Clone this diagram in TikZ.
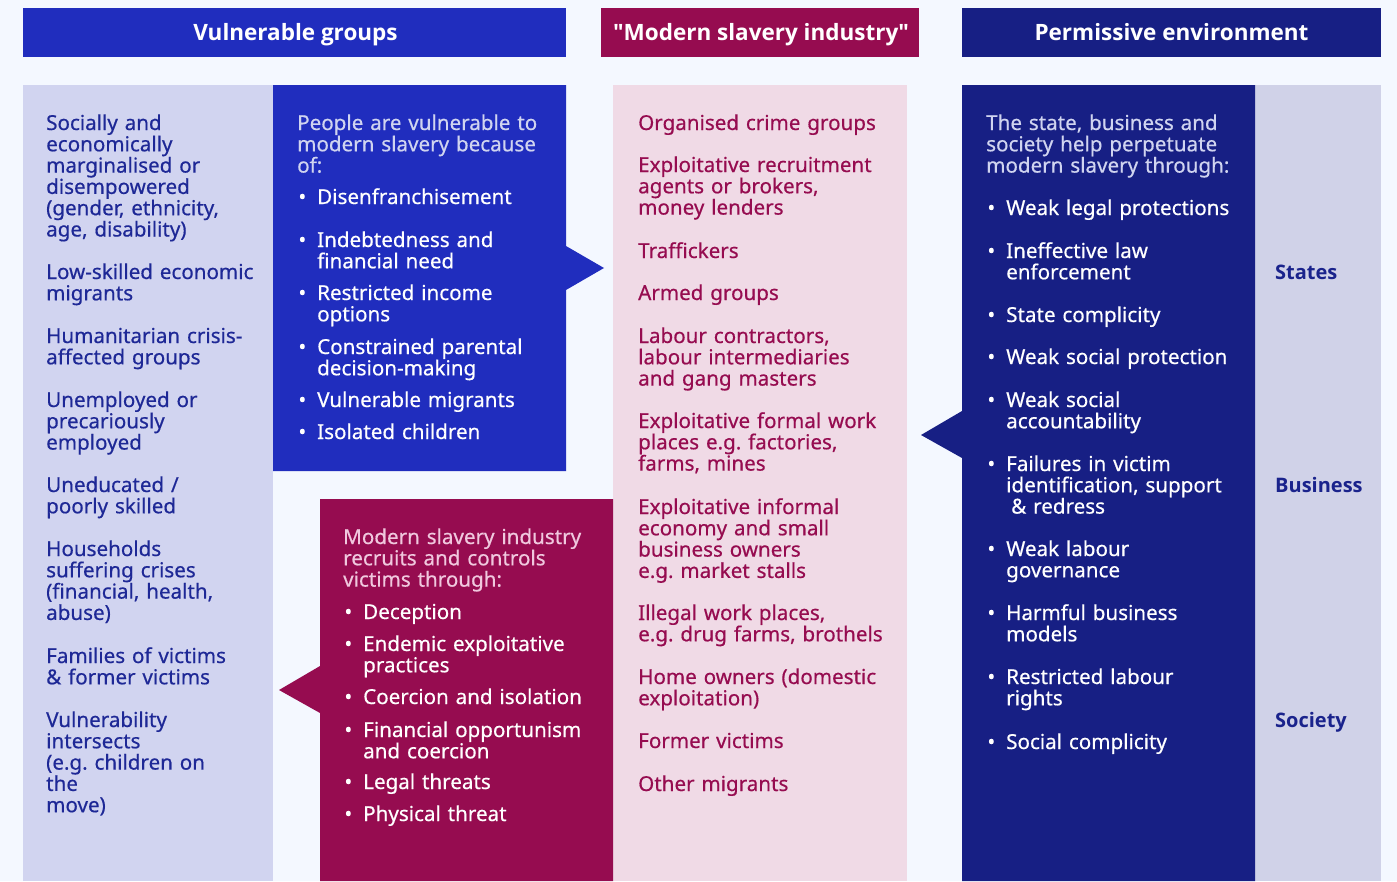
\documentclass[tikz,border=0pt]{standalone}
\usepackage{fontspec}
\setmainfont{Noto Sans}[RawFeature={embolden=0.5}]
\newfontfamily\hfont{Open Sans}
\definecolor{bg}{RGB}{244,248,255}
\definecolor{hblue}{RGB}{32,45,190}
\definecolor{hmag}{RGB}{150,12,80}
\definecolor{hnavy}{RGB}{23,31,132}
\definecolor{lav}{RGB}{209,212,240}
\definecolor{pinkc}{RGB}{240,218,230}
\definecolor{lavr}{RGB}{208,210,232}
\definecolor{ltext}{RGB}{30,40,150}
\definecolor{lighthead}{RGB}{208,212,240}
\definecolor{pinkhead}{RGB}{240,200,222}
\definecolor{rtext}{RGB}{26,35,140}
\newcommand{\bul}{\llap{•\hspace{11pt}}}
\frenchspacing
\begin{document}
\begin{tikzpicture}[x=1pt,y=-1pt,
  txt/.style={anchor=base west, inner sep=0pt, text width=320pt, align=left, font=\fontsize{20.6}{21.3}\selectfont},
  lefttxt/.style={txt, text=ltext},
  whitetxt/.style={txt, text=white},
  bluehead/.style={txt, text=lighthead},
  maghead/.style={txt, text=pinkhead},
  pinktxt/.style={txt, text=hmag},
  rlabel/.style={anchor=base west, inner sep=0pt, text=rtext, font=\hfont\fontsize{20}{22}\selectfont\bfseries},
  headbox/.style={anchor=base, inner sep=0pt, text=white, font=\hfont\fontsize{22.5}{24}\selectfont\bfseries}
]
\useasboundingbox (0,0) rectangle (1397,881);
\fill[bg] (0,0) rectangle (1397,881);
% header bars
\fill[hblue] (23,8) rectangle (566,57);
\fill[hmag] (601,8) rectangle (919,57);
\fill[hnavy] (962,8) rectangle (1381,57);
\node[headbox] (h1) at (295.5,40.5) {Vulnerable groups};
\node[headbox] (h2) at (761,40.5) {\textquotedbl Modern slavery industry\textquotedbl};
\node[headbox] (h3) at (1171.5,40.5) {Permissive environment};
% columns
\fill[lav] (23,85) rectangle (273,881);
\fill[pinkc] (613,85) rectangle (907,881);
\fill[lavr] (1255,85) rectangle (1381,881);
\fill[hblue] (273,85) -- (566,85) -- (566,246) -- (604,268) -- (566,290) -- (566,471) -- (273,471) -- cycle;
\fill[hmag] (320,499) -- (613,499) -- (613,881) -- (320,881) -- (320,713) -- (279,690) -- (320,666) -- cycle;
\fill[hnavy] (962,85) -- (1255,85) -- (1255,881) -- (962,881) -- (962,458) -- (921,435) -- (962,411) -- cycle;
% left column
\node[lefttxt] (l1) at (46,130) {Socially and\\economically\\marginalised or\\disempowered\\(gender, ethnicity,\\age, disability)};
\node[lefttxt] (l2) at (46,279) {Low-skilled economic\\migrants};
\node[lefttxt] (l3) at (46,343) {Humanitarian crisis-\\affected groups};
\node[lefttxt] (l4) at (46,407) {Unemployed or\\precariously\\employed};
\node[lefttxt] (l5) at (46,492) {Uneducated /\\poorly skilled};
\node[lefttxt] (l6) at (46,556) {Households\\suffering crises\\(financial, health,\\abuse)};
\node[lefttxt] (l7) at (46,663) {Families of victims\\\& former victims};
\node[lefttxt] (l8) at (46,727) {Vulnerability\\intersects\\(e.g. children on\\the\\move)};
% blue box
\node[bluehead] (b0) at (297,130) {People are vulnerable to\\modern slavery because\\of:};
\node[whitetxt] (b1) at (317,204) {\bul Disenfranchisement};
\node[whitetxt] (b2) at (317,247) {\bul Indebtedness and\\financial need};
\node[whitetxt] (b3) at (317,300) {\bul Restricted income\\options};
\node[whitetxt] (b4) at (317,354) {\bul Constrained parental\\decision-making};
\node[whitetxt] (b5) at (317,407) {\bul Vulnerable migrants};
\node[whitetxt] (b6) at (317,439) {\bul Isolated children};
% magenta box
\node[maghead] (m0) at (343,544) {Modern slavery industry\\recruits and controls\\victims through:};
\node[whitetxt] (m1) at (363,619) {\bul Deception};
\node[whitetxt] (m2) at (363,651) {\bul Endemic exploitative\\practices};
\node[whitetxt] (m3) at (363,704) {\bul Coercion and isolation};
\node[whitetxt] (m4) at (363,737) {\bul Financial opportunism\\and coercion};
\node[whitetxt] (m5) at (363,789) {\bul Legal threats};
\node[whitetxt] (m6) at (363,821) {\bul Physical threat};
% pink column
\node[pinktxt] (p1) at (638,130) {Organised crime groups};
\node[pinktxt] (p2) at (638,172) {Exploitative recruitment\\agents or brokers,\\money lenders};
\node[pinktxt] (p3) at (638,258) {Traffickers};
\node[pinktxt] (p4) at (638,300) {Armed groups};
\node[pinktxt] (p5) at (638,343) {Labour contractors,\\labour intermediaries\\and gang masters};
\node[pinktxt] (p6) at (638,428) {Exploitative formal work\\places e.g. factories,\\farms, mines};
\node[pinktxt] (p7) at (638,514) {Exploitative informal\\economy and small\\business owners\\e.g. market stalls};
\node[pinktxt] (p8) at (638,620) {Illegal work places,\\e.g. drug farms, brothels};
\node[pinktxt] (p9) at (638,684) {Home owners (domestic\\exploitation)};
\node[pinktxt] (p10) at (638,748) {Former victims};
\node[pinktxt] (p11) at (638,791) {Other migrants};
% navy box
\node[bluehead] (n0) at (986,130) {The state, business and\\society help perpetuate\\modern slavery through:};
\node[whitetxt] (n1) at (1006,215) {\bul Weak legal protections};
\node[whitetxt] (n2) at (1006,258) {\bul Ineffective law\\enforcement};
\node[whitetxt] (n3) at (1006,322) {\bul State complicity};
\node[whitetxt] (n4) at (1006,364) {\bul Weak social protection};
\node[whitetxt] (n5) at (1006,407) {\bul Weak social\\accountability};
\node[whitetxt] (n6) at (1006,471) {\bul Failures in victim\\identification, support\\\hspace{5pt}\& redress};
\node[whitetxt] (n7) at (1006,556) {\bul Weak labour\\governance};
\node[whitetxt] (n8) at (1006,620) {\bul Harmful business\\models};
\node[whitetxt] (n9) at (1006,684) {\bul Restricted labour\\rights};
\node[whitetxt] (n10) at (1006,749) {\bul Social complicity};
% right labels
\node[rlabel] (r1) at (1275,279) {States};
\node[rlabel] (r2) at (1275,492) {Business};
\node[rlabel] (r3) at (1275,727) {Society};
\end{tikzpicture}
\end{document}
